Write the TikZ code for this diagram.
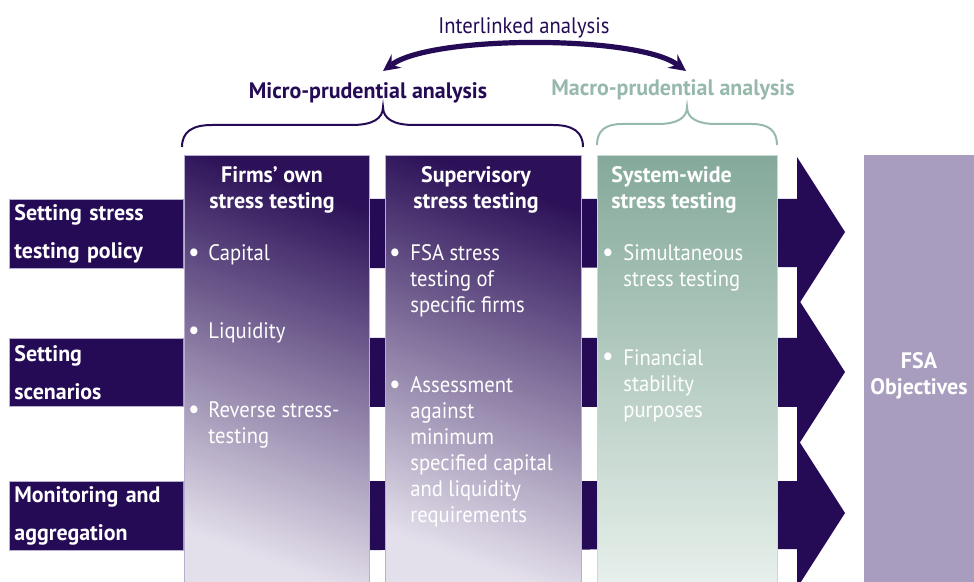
\documentclass[tikz,border=0pt]{standalone}
\usepackage{fontspec}
\setmainfont{PT Sans}[FakeStretch=0.92, BoldFeatures={FakeStretch=0.98}]
\usetikzlibrary{arrows}

\definecolor{fsaink}{HTML}{250A55}
\definecolor{microtop}{HTML}{2C1158}
\definecolor{microlow}{HTML}{E4E0EB}
\definecolor{microedge}{HTML}{B8AECD}
\definecolor{macrotop}{HTML}{84A99A}
\definecolor{macrolow}{HTML}{E8F0EC}
\definecolor{macroedge}{HTML}{C8DAD2}
\definecolor{macroink}{HTML}{97B9AB}
\definecolor{objfill}{HTML}{A99DBF}

\tikzset{
  labelbox/.style={fill=fsaink, draw=microedge, line width=0.4pt, text=white,
    font=\bfseries\fontsize{11.2}{19}\selectfont, align=left, text width=82pt,
    inner sep=2.5pt, minimum height=34pt, anchor=north west},
  microcol/.style={shade, top color=microtop, bottom color=microlow,
    shading angle=-20, draw=microedge, line width=0.5pt, inner sep=0pt,
    minimum height=216pt, anchor=north west},
  macrocol/.style={microcol, top color=macrotop, bottom color=macrolow,
    draw=macroedge},
  coltitle/.style={text=white, font=\bfseries\fontsize{11.2}{13}\selectfont,
    inner sep=0pt},
  colitem/.style={text=white, font=\fontsize{11.2}{13}\selectfont, align=left,
    inner sep=0pt, anchor=west},
  dot/.style={text=white, font=\fontsize{14}{14}\selectfont, inner sep=0pt},
  brace/.style={line width=1pt}
}

\begin{document}
\begin{tikzpicture}[x=0.5pt,y=-0.5pt]
\useasboundingbox (0,0) rectangle (974,582);

% activities on the left, each running through to an arrowhead
\node[labelbox] (policy) at (9,199) {Setting stress\\testing policy};
\node[labelbox] (scenarios) at (9,338) {Setting\\scenarios};
\node[labelbox] (monitoring) at (9,481) {Monitoring and\\aggregation};

\fill[fsaink] (policy.north east) -- (797,199) -- (797,157) -- (845,232)
  -- (797,307) -- (797,267) -- (policy.south east) -- cycle;
\fill[fsaink] (scenarios.north east) -- (797,338) -- (797,297) -- (845,372)
  -- (797,447) -- (797,407) -- (scenarios.south east) -- cycle;
\fill[fsaink] (monitoring.north east) -- (797,481) -- (797,438) -- (845,513)
  -- (797,588) -- (797,549) -- (monitoring.south east) -- cycle;

% the three kinds of stress testing
\node[microcol, minimum width=92.5pt] (firms) at (184,155) {};
\node[microcol, minimum width=98pt] (supervisory) at (385,155) {};
\node[macrocol, minimum width=90pt] (systemwide) at (597,155) {};

\node[fill=objfill, inner sep=0pt, minimum width=60pt, minimum height=216pt,
  anchor=north west] (objectives) at (864,155) {};
\node[coltitle, align=center] (objtitle) at (919,376) {FSA\\Objectives};

% firms' own
\node[coltitle, align=center] (firmstitle) at (272,190) {Firms’ own\\stress testing};
\node[dot] (f1) at (194,255) {\textbullet};
\node[colitem] (capital) at (208,255) {Capital};
\node[dot] (f2) at (194,333) {\textbullet};
\node[colitem] (liquidity) at (208,333) {Liquidity};
\node[dot] (f3) at (194,412) {\textbullet};
\node[colitem] (reverse) at (208,425) {Reverse stress-\\testing};

% supervisory
\node[coltitle, align=center] (suptitle) at (476,190) {Supervisory\\stress testing};
\node[dot] (s1) at (395,255) {\textbullet};
\node[colitem] (fsatest) at (410,281) {FSA stress\\testing of\\specific firms};
\node[dot] (s2) at (395,387) {\textbullet};
\node[colitem] (assess) at (410,452) {Assessment\\against\\minimum\\specified capital\\and liquidity\\requirements};

% system-wide
\node[coltitle, align=left, anchor=west] (systitle) at (611,190) {System-wide\\stress testing};
\node[dot] (w1) at (608,255) {\textbullet};
\node[colitem] (simult) at (623,268) {Simultaneous\\stress testing};
\node[dot] (w2) at (608,359) {\textbullet};
\node[colitem] (finstab) at (623,386) {Financial\\stability\\purposes};

% analysis headings and braces
\node[coltitle, text=fsaink] (micro) at (368,93) {Micro-prudential analysis};
\node[coltitle, text=macroink] (macro) at (673,90) {Macro-prudential analysis};
\node[colitem, anchor=center, text=fsaink] (linked) at (524,28) {Interlinked analysis};

\draw[brace, fsaink] (182,147) .. controls (182,132) and (192,125) .. (212,125)
  -- (352,125) .. controls (372,125) and (383,119) .. (383,107)
  .. controls (383,119) and (394,125) .. (414,125) -- (553,125)
  .. controls (573,125) and (583,132) .. (583,147);
\draw[brace, macroink] (597,145) .. controls (597,131) and (605,124) .. (622,124)
  -- (658,124) .. controls (677,124) and (687,118) .. (687,107)
  .. controls (687,118) and (697,124) .. (716,124) -- (752,124)
  .. controls (769,124) and (777,131) .. (777,145);

\coordinate (microtip) at (383,71);
\coordinate (macrotip) at (686,71);
\draw[<->,>=stealth, line width=2.6pt, fsaink] (microtip) .. controls (432,35) and (637,35) .. (macrotip);

\end{tikzpicture}
\end{document}
